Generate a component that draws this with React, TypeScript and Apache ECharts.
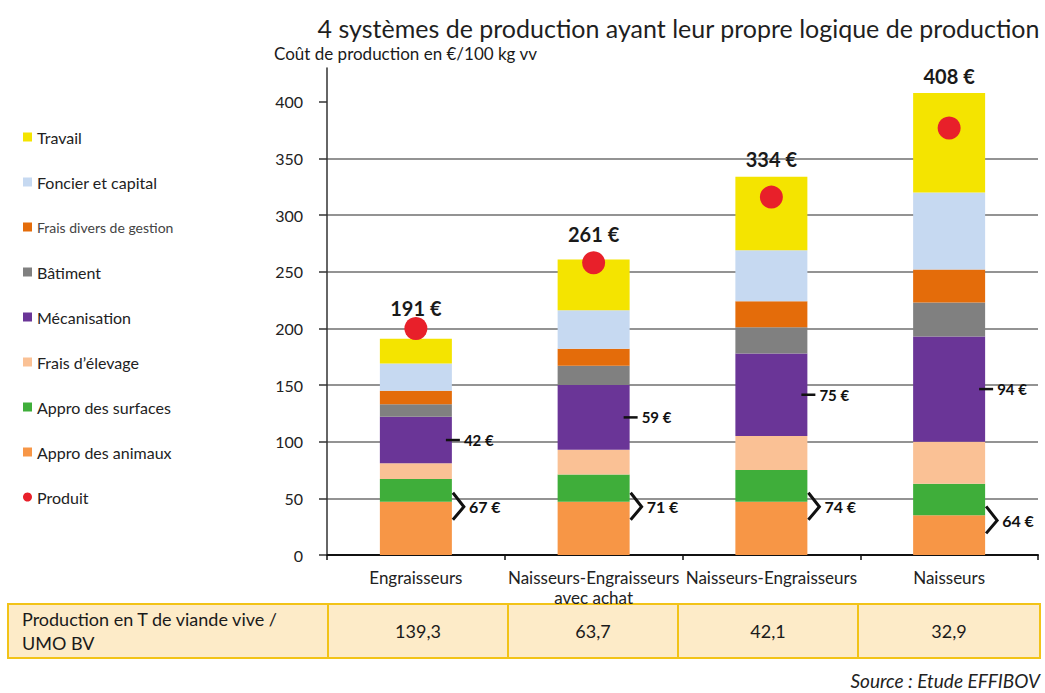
import React, { useEffect, useRef } from 'react';
import * as echarts from 'echarts';

const FONT = 'Lato, "Open Sans", "DejaVu Sans", sans-serif';

const categories = [
  'Engraisseurs',
  'Naisseurs-Engraisseurs\navec achat',
  'Naisseurs-Engraisseurs',
  'Naisseurs',
];

// Stacked cost components (€/100 kg vv), bottom to top
const approAnimaux = [47, 47, 47, 35];
const approSurfaces = [20, 24, 28, 28];
const fraisElevage = [14, 22, 30, 37];
const mecanisation = [41, 57, 73, 93];
const batiment = [11, 17, 23, 30];
const fraisDivers = [12, 15, 23, 29];
const foncierCapital = [24, 34, 45, 68];
const travail = [22, 45, 65, 88];

// Product (red dots)
const produit = [200, 258, 316, 377];

// Annotated values
const totalLabels = [191, 261, 334, 408];
const approLabels = [67, 71, 74, 64];
const mecaLabels = [42, 59, 75, 94];

// Table row
const tableTitle = ['Production en T de viande vive /', 'UMO BV'];
const productionValues = ['139,3', '63,7', '42,1', '32,9'];

const yTicks = [0, 50, 100, 150, 200, 250, 300, 350, 400];

const totalLabelDistance = [21, 15, 8, 7];

const barDefs = [
  { name: 'Appro des animaux', data: approAnimaux, color: '#f79646' },
  { name: 'Appro des surfaces', data: approSurfaces, color: '#3fae3a' },
  { name: 'Frais d’élevage', data: fraisElevage, color: '#fac195' },
  { name: 'Mécanisation', data: mecanisation, color: '#6a3597' },
  { name: 'Bâtiment', data: batiment, color: '#808080' },
  { name: 'Frais divers de gestion', data: fraisDivers, color: '#e46c0a' },
  { name: 'Foncier et capital', data: foncierCapital, color: '#c6d9f1' },
  { name: 'Travail', data: travail, color: '#f4e400' },
];

function buildOption(): any {
  const bars = barDefs.map((d, si) => {
    const isTop = si === barDefs.length - 1;
    return {
      type: 'bar',
      name: d.name,
      stack: 'cout',
      barWidth: 72,
      z: 2,
      itemStyle: { color: d.color, opacity: 1 },
      data: isTop
        ? d.data.map((v, i) => ({ value: v, label: { distance: totalLabelDistance[i] } }))
        : d.data,
      label: isTop
        ? {
            show: true,
            position: 'top',
            formatter: (p: any) => `${totalLabels[p.dataIndex]} €`,
            fontSize: 20,
            fontWeight: 'bold',
            color: '#1a1a1a',
            fontFamily: FONT,
          }
        : { show: false },
    };
  });

  const annotData = categories.map((_, i) => {
    const below = approAnimaux[i] + approSurfaces[i] + fraisElevage[i];
    const mid = below + mecanisation[i] / 2;
    return [i, approAnimaux[i], mid, approLabels[i], mecaLabels[i]];
  });

  const textStyleBase = {
    fill: '#111',
    fontFamily: FONT,
    fontWeight: 'bold',
    align: 'left',
    verticalAlign: 'middle',
    textAlign: 'left',
    textVerticalAlign: 'middle',
  };

  const annotations = {
    type: 'custom',
    name: 'annotations',
    z: 5,
    silent: true,
    clip: false,
    encode: { x: 0, y: 1 },
    data: annotData,
    renderItem: (params: any, api: any) => {
      const i = api.value(0);
      const base = api.coord([i, api.value(1)]);
      const mid = api.coord([i, api.value(2)]);
      const xr = base[0] + 36;
      const by = base[1] + 5;
      return {
        type: 'group',
        children: [
          {
            type: 'polyline',
            shape: { points: [[xr + 1, by - 14], [xr + 12, by], [xr + 1, by + 13]] },
            style: { stroke: '#111', lineWidth: 3, fill: null },
          },
          {
            type: 'text',
            x: xr + 17,
            y: by,
            style: { ...textStyleBase, text: `${api.value(3)} €`, fontSize: 16 },
          },
          {
            type: 'line',
            shape: { x1: xr - 6, y1: mid[1], x2: xr + 8, y2: mid[1] },
            style: { stroke: '#111', lineWidth: 2.5 },
          },
          {
            type: 'text',
            x: xr + 12,
            y: mid[1],
            style: { ...textStyleBase, text: `${api.value(4)} €`, fontSize: 15 },
          },
        ],
      };
    },
  };

  const produitSeries = {
    type: 'scatter',
    name: 'Produit',
    z: 4,
    symbol: 'circle',
    symbolSize: 23,
    itemStyle: { color: '#e8202a', opacity: 1 },
    data: produit,
  };

  // Table graphics
  const colEdges = [8, 328, 508, 678, 858, 1040];
  const tTop = 604;
  const tH = 54;
  const tableGraphics: any[] = [
    {
      type: 'rect',
      shape: { x: colEdges[0], y: tTop, width: colEdges[5] - colEdges[0], height: tH },
      style: { fill: '#fdebc8', stroke: '#f2c318', lineWidth: 2 },
    },
  ];
  for (let k = 1; k < colEdges.length - 1; k++) {
    tableGraphics.push({
      type: 'line',
      shape: { x1: colEdges[k], y1: tTop, x2: colEdges[k], y2: tTop + tH },
      style: { stroke: '#f2c318', lineWidth: 2 },
    });
  }
  const tableTextStyle = {
    fill: '#1a1a1a',
    fontSize: 18,
    fontFamily: FONT,
    verticalAlign: 'middle',
    textVerticalAlign: 'middle',
  };
  tableGraphics.push({
    type: 'text',
    x: 22,
    y: tTop + 15,
    style: { ...tableTextStyle, text: tableTitle[0], align: 'left', textAlign: 'left' },
  });
  tableGraphics.push({
    type: 'text',
    x: 22,
    y: tTop + 39,
    style: { ...tableTextStyle, text: tableTitle[1], align: 'left', textAlign: 'left' },
  });
  productionValues.forEach((v, k) => {
    tableGraphics.push({
      type: 'text',
      x: (colEdges[k + 1] + colEdges[k + 2]) / 2,
      y: tTop + tH / 2,
      style: { ...tableTextStyle, text: v, align: 'center', textAlign: 'center' },
    });
  });

  const legendOrder = [
    'Travail',
    'Foncier et capital',
    'Frais divers de gestion',
    'Bâtiment',
    'Mécanisation',
    'Frais d’élevage',
    'Appro des surfaces',
    'Appro des animaux',
    'Produit',
  ];

  return {
    animation: false,
    backgroundColor: '#ffffff',
    title: {
      text: '4 systèmes de production ayant leur propre logique de production',
      right: 0,
      top: 10,
      textStyle: { fontSize: 25, fontWeight: 'normal', color: '#1f1f1f', fontFamily: FONT },
    },
    legend: {
      orient: 'vertical',
      left: 23,
      top: 128,
      padding: 0,
      itemWidth: 9,
      itemHeight: 9,
      itemGap: 27,
      selectedMode: false,
      textStyle: { fontSize: 16, color: '#222', fontFamily: FONT, lineHeight: 18 },
      data: legendOrder.map((n) =>
        n === 'Produit'
          ? { name: n, icon: 'circle' }
          : n === 'Frais divers de gestion'
          ? { name: n, icon: 'rect', textStyle: { fontSize: 14, color: '#444' } }
          : { name: n, icon: 'rect' }
      ),
    },
    grid: { left: 327, right: 7, top: 68, bottom: 138, outerBoundsMode: 'none', containLabel: false },
    xAxis: {
      type: 'category',
      data: categories,
      axisLine: { show: true, lineStyle: { color: '#111', width: 2 } },
      axisTick: { show: true, length: 5, lineStyle: { color: '#111', width: 1.5 } },
      axisLabel: {
        interval: 0,
        fontSize: 17,
        color: '#222',
        fontFamily: FONT,
        margin: 12,
        lineHeight: 20,
      },
      splitLine: { show: false },
    },
    yAxis: {
      type: 'value',
      min: 0,
      max: 430,
      interval: 50,
      axisLine: { show: true, lineStyle: { color: '#333', width: 1.5 } },
      axisTick: { show: true, length: 8, customValues: yTicks, lineStyle: { color: '#333', width: 1.5 } },
      axisLabel: {
        customValues: yTicks,
        formatter: (v: number) => (v > 400 ? '' : String(v)),
        fontSize: 16,
        color: '#222',
        fontFamily: FONT,
        margin: 24,
      },
      splitLine: {
        show: true,
        showMaxLine: false,
        showMinLine: false,
        lineStyle: { color: '#6f6f6f', width: 1.5 },
      },
    },
    graphic: [
      {
        type: 'text',
        x: 274,
        y: 53,
        style: {
          text: 'Coût de production en €/100 kg vv',
          fill: '#1a1a1a',
          fontSize: 17,
          fontFamily: FONT,
          align: 'left',
          verticalAlign: 'middle',
          textAlign: 'left',
          textVerticalAlign: 'middle',
        },
      },
      ...tableGraphics,
      {
        type: 'text',
        x: 1040,
        y: 680,
        style: {
          text: 'Source : Etude EFFIBOV',
          fill: '#222',
          fontSize: 19,
          fontStyle: 'italic',
          fontFamily: FONT,
          align: 'right',
          verticalAlign: 'middle',
          textAlign: 'right',
          textVerticalAlign: 'middle',
        },
      },
    ],
    series: [...bars, produitSeries, annotations],
  };
}

export default function App() {
  const ref = useRef<HTMLDivElement>(null);
  useEffect(() => {
    if (!ref.current) return;
    const chart = echarts.init(ref.current, null, { renderer: 'svg' });
    chart.setOption(buildOption());
    return () => {
      chart.dispose();
    };
  }, []);
  return (
    <div
      ref={ref}
      style={{ position: 'fixed', left: 0, top: 0, width: 1045, height: 693, background: '#fff' }}
    />
  );
}
